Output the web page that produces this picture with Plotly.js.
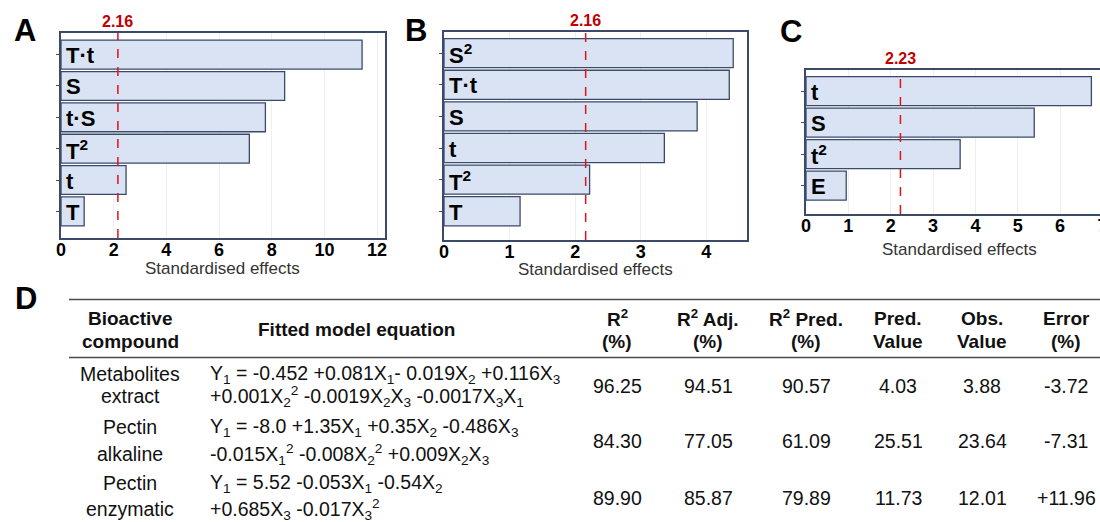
<!DOCTYPE html>
<html><head><meta charset="utf-8">
<script src="https://cdn.plot.ly/plotly-3.0.1.min.js"></script>
<style>html,body{margin:0;padding:0;overflow:hidden;background:#fff;width:1100px;height:522px}</style>
</head><body><div id="chart" style="width:1120px;height:522px"></div>
<script>
// ---- Panel A ----
const termsA = ['T·t', 'S', 't·S', 'T<sup>2</sup>', 't', 'T'];
const effectsA = [11.43, 8.49, 7.76, 7.15, 2.47, 0.88];
const critA = 2.16;
// ---- Panel B ----
const termsB = ['S<sup>2</sup>', 'T·t', 'S', 't', 'T<sup>2</sup>', 'T'];
const effectsB = [4.41, 4.35, 3.86, 3.36, 2.22, 1.16];
const critB = 2.16;
// ---- Panel C ----
const termsC = ['t', 'S', 't<sup>2</sup>', 'E'];
const effectsC = [6.74, 5.39, 3.64, 0.95];
const critC = 2.23;
const xTitle = 'Standardised effects';
// ---- Panel D (table) ----
const tableHeaders = ['Bioactive<br>compound', 'Fitted model equation', 'R<sup>2</sup><br>(%)', 'R<sup>2</sup> Adj.<br>(%)', 'R<sup>2</sup> Pred.<br>(%)', 'Pred.<br>Value', 'Obs.<br>Value', 'Error<br>(%)'];
const compounds = ['Metabolites<br>extract', 'Pectin<br>alkaline', 'Pectin<br>enzymatic'];
const equations = [
  'Y<sub>1</sub> = -0.452 +0.081X<sub>1</sub>- 0.019X<sub>2</sub> +0.116X<sub>3</sub><br>+0.001X<sub>2</sub><sup>2</sup> -0.0019X<sub>2</sub>X<sub>3</sub> -0.0017X<sub>3</sub>X<sub>1</sub>',
  'Y<sub>1</sub> = -8.0 +1.35X<sub>1</sub> +0.35X<sub>2</sub> -0.486X<sub>3</sub><br>-0.015X<sub>1</sub><sup>2</sup> -0.008X<sub>2</sub><sup>2</sup> +0.009X<sub>2</sub>X<sub>3</sub>',
  'Y<sub>1</sub> = 5.52 -0.053X<sub>1</sub> -0.54X<sub>2</sub><br>+0.685X<sub>3</sub> -0.017X<sub>3</sub><sup>2</sup>'
];
const r2 = [96.25, 84.30, 89.90];
const r2Adj = [94.51, 77.05, 85.87];
const r2Pred = [90.57, 61.09, 79.89];
const predValue = [4.03, 25.51, 11.73];
const obsValue = [3.88, 23.64, 12.01];
const errorPct = [-3.72, -7.31, 11.96];

const W = 1120, H = 522;
const px = v => v / W;
const py = v => 1 - v / H;
const FONT = 'Arial, "Liberation Sans", Helvetica, sans-serif';
const EDGE = '#3b4a6b';

const panels = [
  {terms: termsA, effects: effectsA, crit: critA, letter: 'A', dx: [61, 385], dy: [33, 238], xr: [0, 12.3], dt: 2, top: 0.69, bot: 0.85, lp: [25, 30], ty: 268},
  {terms: termsB, effects: effectsB, crit: critB, letter: 'B', dx: [444, 747], dy: [32, 240], xr: [0, 4.62], dt: 1, top: 0.67, bot: 0.91, lp: [416, 30], ty: 269},
  {terms: termsC, effects: effectsC, crit: critC, letter: 'C', dx: [806, 1113], dy: [70, 214], xr: [0, 7.25], dt: 1, top: 0.67, bot: 0.90, lp: [791, 31], ty: 249}
];

const data = [];
const layout = {
  width: W, height: H, margin: {l: 0, r: 0, t: 0, b: 0},
  paper_bgcolor: '#fff', plot_bgcolor: '#fff',
  showlegend: false, font: {family: FONT, color: '#000'},
  shapes: [], annotations: []
};

panels.forEach((p, i) => {
  const sfx = i === 0 ? '' : String(i + 1);
  const n = p.terms.length;
  const idx = p.terms.map((_, k) => k);
  data.push({
    type: 'bar', orientation: 'h', x: p.effects, y: idx,
    xaxis: 'x' + sfx, yaxis: 'y' + sfx, width: 0.92,
    marker: {color: '#dae3f3', line: {color: EDGE, width: 1.3}},
    hoverinfo: 'skip'
  });
  layout['xaxis' + sfx] = {
    domain: [px(p.dx[0]), px(p.dx[1])], anchor: 'y' + sfx,
    range: p.xr, tick0: 0, dtick: p.dt, showgrid: true, gridcolor: '#efefef', gridwidth: 1,
    zeroline: false, showline: true, mirror: true, linecolor: EDGE, linewidth: 2,
    ticks: '', ticklabelstandoff: -6,
    tickfont: {size: 18, weight: 700, color: '#000', family: FONT}, fixedrange: true
  };
  layout['yaxis' + sfx] = {
    domain: [py(p.dy[1]), py(p.dy[0])], anchor: 'x' + sfx,
    range: [n - 1 + p.bot, -p.top], tickvals: idx, showticklabels: false,
    ticks: 'outside', ticklen: 3, tickcolor: EDGE, tickwidth: 1,
    showgrid: false, zeroline: false, showline: true, mirror: true, linecolor: EDGE, linewidth: 2,
    fixedrange: true
  };
  // category labels drawn inside the plot, on the y scale
  p.terms.forEach((t, k) => layout.annotations.push({
    xref: 'x' + sfx + ' domain', yref: 'y' + sfx, x: 0, y: k, xanchor: 'left', yanchor: 'middle',
    xshift: 3, yshift: -1, text: t, showarrow: false,
    font: {size: 22, weight: 700, color: '#000', family: FONT}
  }));
  layout.shapes.push({
    type: 'line', xref: 'x' + sfx, yref: 'y' + sfx + ' domain',
    x0: p.crit, x1: p.crit, y0: 0, y1: 1,
    line: {color: '#e3121b', width: 1.5, dash: 'dash'}
  });
  layout.annotations.push({
    xref: 'x' + sfx, yref: 'y' + sfx + ' domain', x: p.crit, y: 1, yanchor: 'bottom', yshift: 1,
    text: p.crit.toFixed(2), showarrow: false,
    font: {size: 16, weight: 700, color: '#c00000', family: FONT}
  });
  layout.annotations.push({
    xref: 'x' + sfx + ' domain', yref: 'paper', x: 0.5, y: py(p.ty), yanchor: 'middle',
    text: xTitle, showarrow: false, font: {size: 17, color: '#333', family: FONT}
  });
  layout.annotations.push({
    xref: 'paper', yref: 'paper', x: px(p.lp[0]), y: py(p.lp[1]), xanchor: 'center', yanchor: 'middle',
    text: p.letter, showarrow: false, font: {size: 31, weight: 700, color: '#000', family: FONT}
  });
});

// ---- Table D ----
layout.annotations.push({
  xref: 'paper', yref: 'paper', x: px(26), y: py(298), xanchor: 'center', yanchor: 'middle',
  text: 'D', showarrow: false, font: {size: 31, weight: 700, color: '#000', family: FONT}
});
const RULE = '#4a4a4a';
[299.5, 357.5].forEach(yy => layout.shapes.push({
  type: 'line', xref: 'paper', yref: 'paper', x0: px(69), x1: 1, y0: py(yy), y1: py(yy),
  line: {color: RULE, width: 1.6}
}));
const colX = [130, 356, 617, 708, 806, 898, 982, 1066];
const eqLeft = 208;
const hdrY2 = [318, 341], hdrY1 = 329;
tableHeaders.forEach((h, c) => {
  const lines = h.split('<br>');
  const ys = lines.length === 2 ? hdrY2 : [hdrY1];
  lines.forEach((t, k) => layout.annotations.push({
    xref: 'paper', yref: 'paper', x: px(colX[c]), y: py(ys[k]), xanchor: 'center', yanchor: 'middle',
    text: t, showarrow: false, font: {size: 19, weight: 700, color: '#111', family: FONT}
  }));
});
const rowLines = [[374, 396], [427, 454], [483, 509]];
const rowMid = [386, 441, 498];
const fmt = v => v.toFixed(2);
const fmtSigned = v => (v > 0 ? '+' : '') + v.toFixed(2);
const bodyFont = {size: 19.5, color: '#111', family: FONT};
compounds.forEach((cmp, r) => {
  cmp.split('<br>').forEach((t, k) => layout.annotations.push({
    xref: 'paper', yref: 'paper', x: px(colX[0]), y: py(rowLines[r][k]), xanchor: 'center', yanchor: 'middle',
    text: t, showarrow: false, font: bodyFont
  }));
  equations[r].split('<br>').forEach((t, k) => layout.annotations.push({
    xref: 'paper', yref: 'paper', x: px(eqLeft), y: py(rowLines[r][k]), xanchor: 'left', yanchor: 'middle',
    text: t, showarrow: false, font: bodyFont, align: 'left'
  }));
  const vals = [fmt(r2[r]), fmt(r2Adj[r]), fmt(r2Pred[r]), fmt(predValue[r]), fmt(obsValue[r]), fmtSigned(errorPct[r])];
  vals.forEach((t, c) => layout.annotations.push({
    xref: 'paper', yref: 'paper', x: px(colX[c + 2]), y: py(rowMid[r]), xanchor: 'center', yanchor: 'middle',
    text: t, showarrow: false, font: bodyFont
  }));
});

Plotly.newPlot('chart', data, layout, {displayModeBar: false, staticPlot: true});
</script></body></html>
